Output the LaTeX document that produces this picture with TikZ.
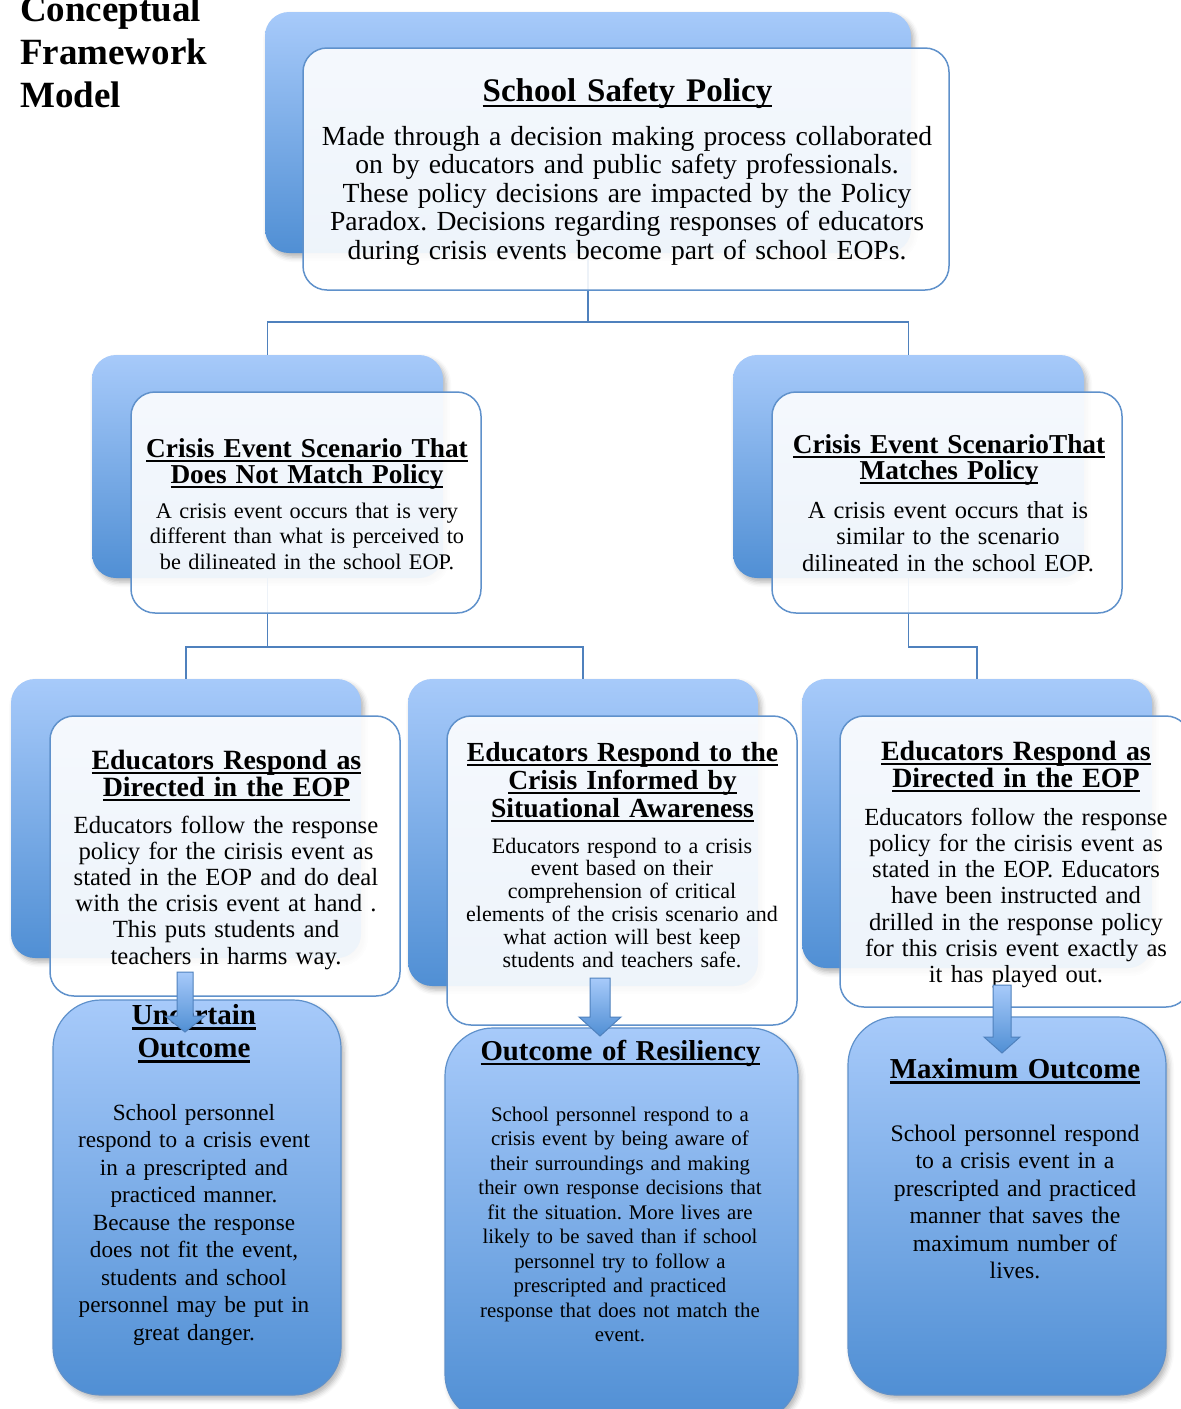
\documentclass[tikz,border=0pt]{standalone}
\usepackage{fontspec}
\setmainfont{Liberation Serif}
\usetikzlibrary{calc,shadows.blur}
\definecolor{bluetop}{RGB}{167,202,250}
\definecolor{bluebot}{RGB}{80,143,212}
\definecolor{frontline}{RGB}{95,145,203}
\definecolor{connline}{RGB}{79,129,189}
\newsavebox\ulbox
\newcommand\ulx[1]{\leavevmode\sbox\ulbox{#1}\rlap{\rule[-0.19em]{\wd\ulbox}{0.08em}}\usebox\ulbox}
\newcommand\fs[2]{\fontsize{#1}{#2}\selectfont}
\frenchspacing
\begin{document}
\begin{tikzpicture}[x=1pt,y=-1pt,
  backbox/.style={rectangle, rounded corners=24pt, top color=bluetop, bottom color=bluebot, draw=none,
    blur shadow={shadow xshift=3pt,shadow yshift=-4pt,shadow blur radius=5pt,shadow opacity=30}, inner sep=0pt},
  frontbox/.style={rectangle, rounded corners=24pt, draw=frontline, line width=1.5pt, fill=white, fill opacity=0.9, inner sep=0pt},
  outbox/.style={rectangle, rounded corners=48pt, top color=bluetop, bottom color=bluebot, draw=frontline, line width=1.2pt,
    blur shadow={shadow xshift=3pt,shadow yshift=-4pt,shadow blur radius=5pt,shadow opacity=30}, inner sep=0pt},
  conn/.style={draw=connline, line width=1.6pt},
  barrow/.style={draw=connline, line width=1pt, top color=bluetop, bottom color=bluebot},
  ttl/.style={text width=700pt, align=center, anchor=base, inner sep=0pt},
  txt/.style={text width=700pt, align=center, anchor=base, inner sep=0pt},
]
\useasboundingbox (0,0) rectangle (1181,1409);

% main title
\node[anchor=base west, text width=300pt, align=left, inner sep=0pt, font={\bfseries\fs{37}{43}}] (maintitle) at (20,21) {Conceptual\\Framework\\Model};

% back boxes
\node[backbox, minimum width=646pt, minimum height=241pt] (topback) at (588,132.5) {};
\node[backbox, minimum width=351pt, minimum height=223pt] (mlback) at (267.5,466.5) {};
\node[backbox, minimum width=351pt, minimum height=223pt] (mrback) at (908.5,466.5) {};
\node[backbox, minimum width=350pt, minimum height=279pt] (llback) at (186,818.5) {};
\node[backbox, minimum width=350pt, minimum height=307pt] (lmback) at (583,832.5) {};
\node[backbox, minimum width=350pt, minimum height=289pt] (lrback) at (977,823.5) {};

% connectors
\coordinate (j1) at (588,322);
\coordinate (j2) at (267.5,647);
\coordinate (j3) at (908.5,647);
\draw[conn] (topback.south) -- (j1) -| (mlback.north);
\draw[conn] (j1) -| (mrback.north);
\draw[conn] (mlback.south) -- (j2) -| (llback.north);
\draw[conn] (j2) -| (lmback.north);
\draw[conn] (mrback.south) -- (j3) -| (lrback.north);

% front boxes
\node[frontbox, minimum width=646pt, minimum height=242pt] (topfront) at (626,169) {};
\node[frontbox, minimum width=350pt, minimum height=221pt] (mlfront) at (306,502.5) {};
\node[frontbox, minimum width=350pt, minimum height=221pt] (mrfront) at (947,502.5) {};
\node[frontbox, minimum width=350pt, minimum height=280pt] (llfront) at (225,856) {};
\node[frontbox, minimum width=350pt, minimum height=309pt] (lmfront) at (622,870.5) {};
\node[frontbox, minimum width=350pt, minimum height=291pt] (lrfront) at (1015,861.5) {};

% top texts
\node[ttl, font={\bfseries\fs{33}{36}}] (t1) at (627.5,101) {\ulx{School Safety Policy}};
\node[txt, font={\fs{27.6}{28.5}}] (b1) at (627,145) {Made through a decision making process collaborated\\on by educators and public safety professionals.\\These policy decisions are impacted by the Policy\\Paradox. Decisions regarding responses of educators\\during crisis events become part of school EOPs.};

% middle texts
\node[ttl, font={\bfseries\fs{27.3}{26}}] (t2) at (307,457) {\ulx{Crisis Event Scenario That}\\\ulx{Does Not Match Policy}};
\node[txt, font={\fs{22.3}{25.5}}] (b2) at (307,518) {A crisis event occurs that is very\\different than what is perceived to\\be dilineated in the school EOP.};
\node[ttl, font={\bfseries\fs{27.3}{26}}] (t3) at (949,453) {\ulx{Crisis Event ScenarioThat}\\\ulx{Matches Policy}};
\node[txt, font={\fs{24.5}{26.5}}] (b3) at (948,518) {A crisis event occurs that is\\similar to the scenario\\dilineated in the school EOP.};

% third level texts
\node[ttl, font={\bfseries\fs{27.9}{27}}] (t4) at (226.5,769) {\ulx{Educators Respond as}\\\ulx{Directed in the EOP}};
\node[txt, font={\fs{24.7}{26.2}}] (b4) at (226,833) {Educators follow the response\\policy for the cirisis event as\\stated in the EOP and do deal\\with the crisis event at hand .\\This puts students and\\teachers in harms way.};
\node[ttl, font={\bfseries\fs{27.6}{28}}] (t5) at (622.5,761) {\ulx{Educators Respond to the}\\\ulx{Crisis Informed by}\\\ulx{Situational Awareness}};
\node[txt, font={\fs{22}{22.8}}] (b5) at (622,853) {Educators respond to a crisis\\event based on their\\comprehension of critical\\elements of the crisis scenario and\\what action will best keep\\students and teachers safe.};
\node[ttl, font={\bfseries\fs{27.9}{27}}] (t6) at (1016,760) {\ulx{Educators Respond as}\\\ulx{Directed in the EOP}};
\node[txt, font={\fs{24.6}{26.3}}] (b6) at (1016,825) {Educators follow the response\\policy for the cirisis event as\\stated in the EOP. Educators\\have been instructed and\\drilled in the response policy\\for this crisis event exactly as\\it has played out.};

% outcome boxes
\node[outbox, minimum width=288pt, minimum height=395pt] (oleft) at (197,1197.5) {};
\node[outbox, minimum width=353pt, minimum height=394pt] (omid) at (621.5,1225) {};
\node[outbox, minimum width=318pt, minimum height=378pt] (oright) at (1007,1206) {};

\node[ttl, font={\bfseries\fs{29}{33}}] (t7) at (194,1024) {\ulx{Uncertain}\\\ulx{Outcome}};
\node[txt, font={\fs{23.2}{27.5}}] (b7) at (194,1120) {School personnel\\respond to a crisis event\\in a prescripted and\\practiced manner.\\Because the response\\does not fit the event,\\students and school\\personnel may be put in\\great danger.};
\node[ttl, font={\bfseries\fs{28.8}{33}}] (t8) at (620.5,1060) {\ulx{Outcome of Resiliency}};
\node[txt, font={\fs{20.8}{24.5}}] (b8) at (620,1121) {School personnel respond to a\\crisis event by being aware of\\their surroundings and making\\their own response decisions that\\fit the situation. More lives are\\likely to be saved than if school\\personnel try to follow a\\prescripted and practiced\\response that does not match the\\event.};
\node[ttl, font={\bfseries\fs{28.9}{33}}] (t9) at (1015,1078) {\ulx{Maximum Outcome}};
\node[txt, font={\fs{23.7}{27.5}}] (b9) at (1015,1141) {School personnel respond\\to a crisis event in a\\prescripted and practiced\\manner that saves the\\maximum number of\\lives.};

% block arrows
\coordinate (aLs) at (185,972);  \coordinate (aLe) at (185,1032);
\coordinate (aMs) at (600,978);  \coordinate (aMe) at (600,1036);
\coordinate (aRs) at (1002,985); \coordinate (aRe) at (1002,1053);
\draw[barrow] ($(aLs)+(-8,0)$) -- ($(aLs)+(8,0)$) -- ($(aLe)+(8,-16)$) -- ($(aLe)+(20,-16)$) -- (aLe) -- ($(aLe)+(-20,-16)$) -- ($(aLe)+(-8,-16)$) -- cycle;
\draw[barrow] ($(aMs)+(-10,0)$) -- ($(aMs)+(10,0)$) -- ($(aMe)+(10,-19)$) -- ($(aMe)+(21,-19)$) -- (aMe) -- ($(aMe)+(-21,-19)$) -- ($(aMe)+(-10,-19)$) -- cycle;
\draw[barrow] ($(aRs)+(-9,0)$) -- ($(aRs)+(9,0)$) -- ($(aRe)+(9,-16)$) -- ($(aRe)+(18,-16)$) -- (aRe) -- ($(aRe)+(-18,-16)$) -- ($(aRe)+(-9,-16)$) -- cycle;
\end{tikzpicture}
\end{document}
